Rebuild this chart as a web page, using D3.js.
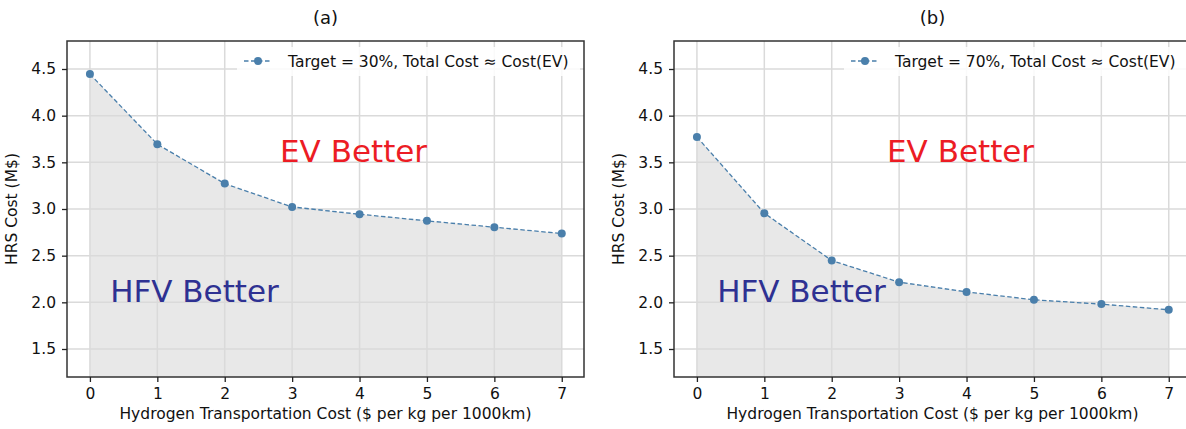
<!DOCTYPE html>
<html><head><meta charset="utf-8">
<script src="https://cdn.jsdelivr.net/npm/d3@7"></script>
<style>body{margin:0;background:#fff}svg{display:block}text{font-family:"DejaVu Sans",sans-serif}</style>
</head><body>
<script>
const xValues = [0, 1, 2, 3, 4, 5, 6, 7];
const costA = [4.446, 3.694, 3.272, 3.022, 2.944, 2.873, 2.805, 2.737];
const costB = [3.772, 2.955, 2.448, 2.216, 2.112, 2.027, 1.981, 1.920];
const yTicks = [1.5, 2.0, 2.5, 3.0, 3.5, 4.0, 4.5];
const titles = ["(a)", "(b)"];
const legendLabels = ["Target = 30%, Total Cost \u2248 Cost(EV)", "Target = 70%, Total Cost \u2248 Cost(EV)"];
const xLabel = "Hydrogen Transportation Cost ($ per kg per 1000km)";
const yLabel = "HRS Cost (M$)";

(function () {
const W = 1186, H = 429;
const svg = d3.select("body").append("svg").attr("width", W).attr("height", H);

const panels = [
  {left: 67, data: costA, title: titles[0], legend: legendLabels[0]},
  {left: 674, data: costB, title: titles[1], legend: legendLabels[1]}
];
const pw = 517, pTop = 41, pBottom = 377;
const color = "#4a7fab";
const fs = 15.5;

panels.forEach(p => {
  const x = d3.scaleLinear().domain([-0.34, 7.33]).range([p.left, p.left + pw]);
  const y = d3.scaleLinear().domain([1.2, 4.8]).range([pBottom, pTop]);
  const g = svg.append("g");
  const clipId = "clip" + p.left;
  g.append("clipPath").attr("id", clipId).append("rect")
    .attr("x", p.left).attr("y", pTop).attr("width", pw).attr("height", pBottom - pTop);
  const inner = g.append("g").attr("clip-path", `url(#${clipId})`);
  const pts = xValues.map((v, i) => [v, p.data[i]]);
  inner.append("path")
    .attr("d", d3.area().x(d => x(d[0])).y0(y(1.2)).y1(d => y(d[1]))(pts))
    .attr("fill", "#e8e8e8");
  inner.selectAll(".gx").data(xValues).join("line")
    .attr("x1", d => x(d)).attr("x2", d => x(d)).attr("y1", pTop).attr("y2", pBottom)
    .attr("stroke", "#dadada").attr("stroke-width", 1.5);
  inner.selectAll(".gy").data(yTicks).join("line")
    .attr("y1", d => y(d)).attr("y2", d => y(d)).attr("x1", p.left).attr("x2", p.left + pw)
    .attr("stroke", "#dadada").attr("stroke-width", 1.5);
  inner.append("path")
    .attr("d", d3.line().x(d => x(d[0])).y(d => y(d[1]))(pts))
    .attr("fill", "none").attr("stroke", color).attr("stroke-width", 1.3)
    .attr("stroke-dasharray", "4.5,2.5");
  inner.selectAll(".pt").data(pts).join("circle")
    .attr("cx", d => x(d[0])).attr("cy", d => y(d[1])).attr("r", 4)
    .attr("fill", color);
  inner.append("text").attr("x", x(2.82)).attr("y", y(3.5))
    .attr("font-size", 31).attr("fill", "#ec1c24").text("EV Better");
  inner.append("text").attr("x", x(0.3)).attr("y", y(2.0))
    .attr("font-size", 31).attr("fill", "#2e3192").text("HFV Better");
  const lx = p.left + 170;
  inner.append("rect").attr("x", lx).attr("y", pTop + 6).attr("width", 343).attr("height", 29)
    .attr("rx", 3).attr("fill", "#fff").attr("opacity", 0.85);
  inner.append("line").attr("x1", lx + 7).attr("x2", lx + 35).attr("y1", pTop + 20).attr("y2", pTop + 20)
    .attr("stroke", color).attr("stroke-width", 1.3).attr("stroke-dasharray", "4.5,2.5");
  inner.append("circle").attr("cx", lx + 21).attr("cy", pTop + 20).attr("r", 4).attr("fill", color);
  inner.append("text").attr("x", lx + 51).attr("y", pTop + 25.5).attr("font-size", fs)
    .attr("fill", "#111").text(p.legend);
  g.append("rect").attr("x", p.left).attr("y", pTop).attr("width", pw).attr("height", pBottom - pTop)
    .attr("fill", "none").attr("stroke", "#333").attr("stroke-width", 1.5);
  const xa = g.append("g").attr("transform", `translate(0,${pBottom})`)
    .call(d3.axisBottom(x).tickValues(xValues).tickSize(5).tickPadding(6).tickFormat(d3.format("d")));
  const ya = g.append("g").attr("transform", `translate(${p.left},0)`)
    .call(d3.axisLeft(y).tickValues(yTicks).tickSize(5).tickPadding(6).tickFormat(d3.format(".1f")));
  [xa, ya].forEach(a => {
    a.select(".domain").remove();
    a.selectAll("line").attr("stroke", "#222").attr("stroke-width", 1.3);
    a.selectAll("text").attr("font-size", fs).attr("fill", "#111").attr("font-family", "DejaVu Sans");
  });
  svg.append("text").attr("x", p.left + pw / 2).attr("y", 24).attr("text-anchor", "middle")
    .attr("font-size", 18).attr("fill", "#111").text(p.title);
  svg.append("text").attr("x", p.left + pw / 2).attr("y", 419).attr("text-anchor", "middle")
    .attr("font-size", fs).attr("fill", "#111").text(xLabel);
  svg.append("text").attr("transform", `translate(${p.left - 50},${(pTop + pBottom) / 2}) rotate(-90)`)
    .attr("text-anchor", "middle").attr("font-size", fs).attr("fill", "#111").text(yLabel);
});
})();
</script>
</body></html>
